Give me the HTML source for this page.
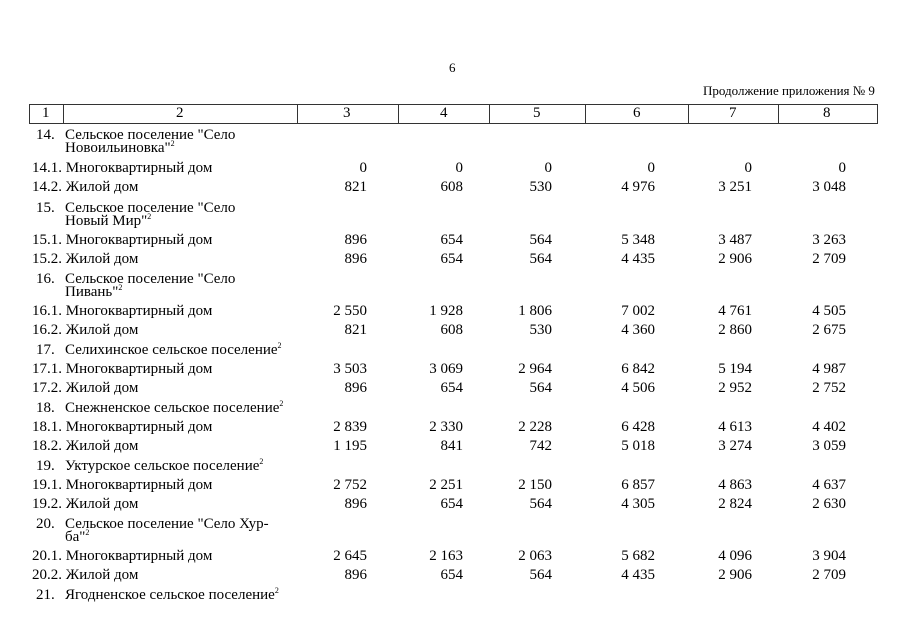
<!DOCTYPE html>
<html><head><meta charset="utf-8"><style>
body{margin:0;width:905px;height:640px;background:#fff;position:relative;font-family:"Liberation Serif",serif;font-size:15px;color:#000;overflow:hidden}
.t{position:absolute;white-space:nowrap;line-height:16px}
.s{font-size:13px}
.r{position:absolute;white-space:nowrap;line-height:16px;text-align:right;width:100px}
sup{font-size:8px;vertical-align:top;line-height:8px}
.v{position:absolute;top:104px;height:19px;border-left:1px solid #333}
.h{position:absolute;left:29px;width:849px;border-top:1px solid #333}
</style></head><body>
<div class="t s" style="left:449px;top:60px">6</div>
<div class="t s" style="left:703px;top:83px">Продолжение приложения № 9</div>
<div class="h" style="top:104px"></div><div class="h" style="top:123px"></div>
<div class="v" style="left:29px"></div><div class="v" style="left:63px"></div><div class="v" style="left:297px"></div><div class="v" style="left:398px"></div><div class="v" style="left:489px"></div><div class="v" style="left:585px"></div><div class="v" style="left:688px"></div><div class="v" style="left:778px"></div><div class="v" style="left:877px"></div>
<div class="t" style="left:42px;top:105px">1</div>
<div class="t" style="left:176px;top:105px">2</div>
<div class="t" style="left:343px;top:105px">3</div>
<div class="t" style="left:440px;top:105px">4</div>
<div class="t" style="left:533px;top:105px">5</div>
<div class="t" style="left:633px;top:105px">6</div>
<div class="t" style="left:729px;top:105px">7</div>
<div class="t" style="left:823px;top:105px">8</div>

<div class="t" style="left:36px;top:127px">14.</div><div class="t" style="left:65px;top:127px">Сельское поселение "Село</div><div class="t" style="left:65px;top:140px">Новоильиновка"<sup>2</sup></div>
<div class="t" style="left:32px;top:160px">14.1. Многоквартирный дом</div>
<div class="r" style="left:267px;top:160px">0</div><div class="r" style="left:363px;top:160px">0</div><div class="r" style="left:452px;top:160px">0</div><div class="r" style="left:555px;top:160px">0</div><div class="r" style="left:652px;top:160px">0</div><div class="r" style="left:746px;top:160px">0</div>
<div class="t" style="left:32px;top:179px">14.2. Жилой дом</div>
<div class="r" style="left:267px;top:179px">821</div><div class="r" style="left:363px;top:179px">608</div><div class="r" style="left:452px;top:179px">530</div><div class="r" style="left:555px;top:179px">4 976</div><div class="r" style="left:652px;top:179px">3 251</div><div class="r" style="left:746px;top:179px">3 048</div>

<div class="t" style="left:36px;top:200px">15.</div><div class="t" style="left:65px;top:200px">Сельское поселение "Село</div><div class="t" style="left:65px;top:213px">Новый Мир"<sup>2</sup></div>
<div class="t" style="left:32px;top:232px">15.1. Многоквартирный дом</div>
<div class="r" style="left:267px;top:232px">896</div><div class="r" style="left:363px;top:232px">654</div><div class="r" style="left:452px;top:232px">564</div><div class="r" style="left:555px;top:232px">5 348</div><div class="r" style="left:652px;top:232px">3 487</div><div class="r" style="left:746px;top:232px">3 263</div>
<div class="t" style="left:32px;top:251px">15.2. Жилой дом</div>
<div class="r" style="left:267px;top:251px">896</div><div class="r" style="left:363px;top:251px">654</div><div class="r" style="left:452px;top:251px">564</div><div class="r" style="left:555px;top:251px">4 435</div><div class="r" style="left:652px;top:251px">2 906</div><div class="r" style="left:746px;top:251px">2 709</div>

<div class="t" style="left:36px;top:271px">16.</div><div class="t" style="left:65px;top:271px">Сельское поселение "Село</div><div class="t" style="left:65px;top:284px">Пивань"<sup>2</sup></div>
<div class="t" style="left:32px;top:303px">16.1. Многоквартирный дом</div>
<div class="r" style="left:267px;top:303px">2 550</div><div class="r" style="left:363px;top:303px">1 928</div><div class="r" style="left:452px;top:303px">1 806</div><div class="r" style="left:555px;top:303px">7 002</div><div class="r" style="left:652px;top:303px">4 761</div><div class="r" style="left:746px;top:303px">4 505</div>
<div class="t" style="left:32px;top:322px">16.2. Жилой дом</div>
<div class="r" style="left:267px;top:322px">821</div><div class="r" style="left:363px;top:322px">608</div><div class="r" style="left:452px;top:322px">530</div><div class="r" style="left:555px;top:322px">4 360</div><div class="r" style="left:652px;top:322px">2 860</div><div class="r" style="left:746px;top:322px">2 675</div>

<div class="t" style="left:36px;top:342px">17.</div><div class="t" style="left:65px;top:342px">Селихинское сельское поселение<sup>2</sup></div>
<div class="t" style="left:32px;top:361px">17.1. Многоквартирный дом</div>
<div class="r" style="left:267px;top:361px">3 503</div><div class="r" style="left:363px;top:361px">3 069</div><div class="r" style="left:452px;top:361px">2 964</div><div class="r" style="left:555px;top:361px">6 842</div><div class="r" style="left:652px;top:361px">5 194</div><div class="r" style="left:746px;top:361px">4 987</div>
<div class="t" style="left:32px;top:380px">17.2. Жилой дом</div>
<div class="r" style="left:267px;top:380px">896</div><div class="r" style="left:363px;top:380px">654</div><div class="r" style="left:452px;top:380px">564</div><div class="r" style="left:555px;top:380px">4 506</div><div class="r" style="left:652px;top:380px">2 952</div><div class="r" style="left:746px;top:380px">2 752</div>

<div class="t" style="left:36px;top:400px">18.</div><div class="t" style="left:65px;top:400px">Снежненское сельское поселение<sup>2</sup></div>
<div class="t" style="left:32px;top:419px">18.1. Многоквартирный дом</div>
<div class="r" style="left:267px;top:419px">2 839</div><div class="r" style="left:363px;top:419px">2 330</div><div class="r" style="left:452px;top:419px">2 228</div><div class="r" style="left:555px;top:419px">6 428</div><div class="r" style="left:652px;top:419px">4 613</div><div class="r" style="left:746px;top:419px">4 402</div>
<div class="t" style="left:32px;top:438px">18.2. Жилой дом</div>
<div class="r" style="left:267px;top:438px">1 195</div><div class="r" style="left:363px;top:438px">841</div><div class="r" style="left:452px;top:438px">742</div><div class="r" style="left:555px;top:438px">5 018</div><div class="r" style="left:652px;top:438px">3 274</div><div class="r" style="left:746px;top:438px">3 059</div>

<div class="t" style="left:36px;top:458px">19.</div><div class="t" style="left:65px;top:458px">Уктурское сельское поселение<sup>2</sup></div>
<div class="t" style="left:32px;top:477px">19.1. Многоквартирный дом</div>
<div class="r" style="left:267px;top:477px">2 752</div><div class="r" style="left:363px;top:477px">2 251</div><div class="r" style="left:452px;top:477px">2 150</div><div class="r" style="left:555px;top:477px">6 857</div><div class="r" style="left:652px;top:477px">4 863</div><div class="r" style="left:746px;top:477px">4 637</div>
<div class="t" style="left:32px;top:496px">19.2. Жилой дом</div>
<div class="r" style="left:267px;top:496px">896</div><div class="r" style="left:363px;top:496px">654</div><div class="r" style="left:452px;top:496px">564</div><div class="r" style="left:555px;top:496px">4 305</div><div class="r" style="left:652px;top:496px">2 824</div><div class="r" style="left:746px;top:496px">2 630</div>

<div class="t" style="left:36px;top:516px">20.</div><div class="t" style="left:65px;top:516px">Сельское поселение "Село Хур-</div><div class="t" style="left:65px;top:529px">ба"<sup>2</sup></div>
<div class="t" style="left:32px;top:548px">20.1. Многоквартирный дом</div>
<div class="r" style="left:267px;top:548px">2 645</div><div class="r" style="left:363px;top:548px">2 163</div><div class="r" style="left:452px;top:548px">2 063</div><div class="r" style="left:555px;top:548px">5 682</div><div class="r" style="left:652px;top:548px">4 096</div><div class="r" style="left:746px;top:548px">3 904</div>
<div class="t" style="left:32px;top:567px">20.2. Жилой дом</div>
<div class="r" style="left:267px;top:567px">896</div><div class="r" style="left:363px;top:567px">654</div><div class="r" style="left:452px;top:567px">564</div><div class="r" style="left:555px;top:567px">4 435</div><div class="r" style="left:652px;top:567px">2 906</div><div class="r" style="left:746px;top:567px">2 709</div>

<div class="t" style="left:36px;top:587px">21.</div><div class="t" style="left:65px;top:587px">Ягодненское сельское поселение<sup>2</sup></div>
</body></html>
